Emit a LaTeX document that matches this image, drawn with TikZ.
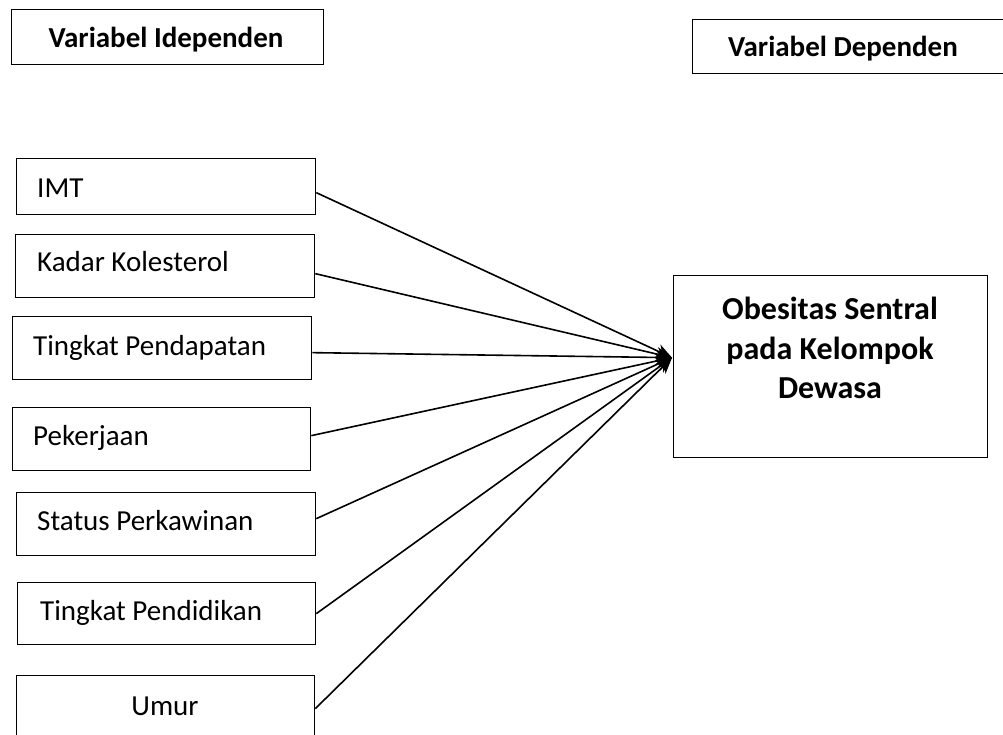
\documentclass[tikz,border=0pt]{standalone}
\usepackage{fontspec}
\setmainfont{Carlito}
\usetikzlibrary{arrows.meta}
\begin{document}
\begin{tikzpicture}[x=1pt,y=-1pt,
 box/.style={draw,line width=1.3pt,inner sep=0pt,anchor=north west},
 lbl/.style={inner sep=0pt,anchor=base west,font=\fontsize{29}{35}\selectfont},
 hdr/.style={inner sep=0pt,anchor=base,font=\bfseries\fontsize{29}{35}\selectfont},
 big/.style={inner sep=0pt,anchor=base,font=\bfseries\fontsize{32}{39}\selectfont},
 link/.style={line width=1.6pt,-{Stealth[length=16pt,width=14pt]}}]
\useasboundingbox (0,0) rectangle (1003,735);
\clip (0,0) rectangle (1003,735);
% headers
\node[box,minimum width=312pt,minimum height=55pt] (hi) at (11,9) {};
\node[hdr] (thi) at (166,48) {Variabel Idependen};
\node[box,minimum width=330pt,minimum height=54pt] (hd) at (692,19) {};
\node[hdr] (thd) at (843,57) {Variabel Dependen};
% independent boxes
\node[box,minimum width=299pt,minimum height=56pt] (imt) at (16,158) {};
\node[lbl] (timt) at (37,198) {IMT};
\node[box,minimum width=299pt,minimum height=63pt] (kol) at (15,234) {};
\node[lbl] (tkol) at (37,272) {Kadar Kolesterol};
\node[box,minimum width=299pt,minimum height=63pt] (pen) at (12,316) {};
\node[lbl] (tpen) at (33,355) {Tingkat Pendapatan};
\node[box,minimum width=298pt,minimum height=63pt] (pek) at (12,407) {};
\node[lbl] (tpek) at (33,445) {Pekerjaan};
\node[box,minimum width=299pt,minimum height=63pt] (sta) at (16,492) {};
\node[lbl] (tsta) at (37,530) {Status Perkawinan};
\node[box,minimum width=298pt,minimum height=62pt] (pdd) at (17,582) {};
\node[lbl] (tpdd) at (40,620) {Tingkat Pendidikan};
\node[box,minimum width=298pt,minimum height=80pt] (umr) at (16,675) {};
\node[lbl,anchor=base] (tumr) at (165,715) {Umur};
% dependent box
\node[box,minimum width=314pt,minimum height=182pt] (dep) at (673,275) {};
\node[big] (dep1) at (830,319) {Obesitas Sentral};
\node[big] (dep2) at (830,359) {pada Kelompok};
\node[big] (dep3) at (830,398) {Dewasa};
\coordinate (tip) at ([xshift=-1pt,yshift=9pt]dep.west);
% connectors
\draw[link] ([yshift=-6pt]imt.east) -- (tip);
\draw[link] ([yshift=-7.5pt]kol.east) -- (tip);
\draw[link] ([yshift=-4.5pt]pen.east) -- (tip);
\draw[link] ([yshift=3.5pt]pek.east) -- (tip);
\draw[link] ([yshift=5.5pt]sta.east) -- (tip);
\draw[link] (pdd.east) -- (tip);
\draw[link] ([yshift=7pt]umr.east) -- (tip);
\end{tikzpicture}
\end{document}
